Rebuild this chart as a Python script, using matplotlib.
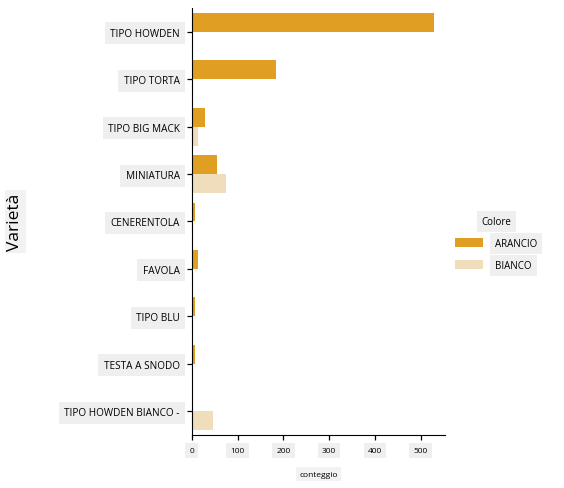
import matplotlib
matplotlib.use("Agg")
import matplotlib.pyplot as plt
import numpy as np

# dati
varieta = ["TIPO HOWDEN", "TIPO TORTA", "TIPO BIG MACK", "MINIATURA", "CENERENTOLA",
           "FAVOLA", "TIPO BLU", "TESTA A SNODO", "TIPO HOWDEN BIANCO -"]
arancio = [528, 185, 28, 55, 6, 14, 6, 6, 0]
bianco = [0, 3, 14, 74, 3, 3, 0, 0, 47]
colori = ["ARANCIO", "BIANCO"]
x_ticks = [0, 100, 200, 300, 400, 500]

col_arancio = "#E09E22"
col_bianco = "#EFDDBB"

plt.rcParams["font.family"] = ["Open Sans", "DejaVu Sans"]

fig = plt.figure(figsize=(5.64, 4.89), dpi=100)
ax = fig.add_axes([0.340, 0.108, 0.449, 0.874])

y = np.arange(len(varieta))
h = 0.4
ax.barh(y - h / 2, arancio, height=h, color=col_arancio, label=colori[0])
ax.barh(y + h / 2, bianco, height=h, color=col_bianco, label=colori[1])

ax.set_ylim(len(varieta) - 0.5, -0.5)
ax.set_xlim(0, 553)
ax.set_yticks(y)
ax.set_yticklabels(varieta, fontsize=7.2)
ax.set_xticks(x_ticks)
ax.set_xticklabels([str(v) for v in x_ticks], fontsize=6)
for lab in ax.get_yticklabels():
    lab.set_bbox(dict(boxstyle="square,pad=0.55", fc="#EFEFEF", ec="none"))
for lab in ax.get_xticklabels():
    lab.set_bbox(dict(boxstyle="square,pad=0.5", fc="#EFEFEF", ec="none"))

ax.spines["top"].set_visible(False)
ax.spines["right"].set_visible(False)
ax.tick_params(length=3.5, width=0.9, pad=5)

ax.set_xlabel("conteggio", fontsize=6, labelpad=12,
              bbox=dict(boxstyle="square,pad=0.4", fc="#F2F2F2", ec="none"))
fig.text(0.027, 0.545, "Varietà", rotation=90, fontsize=12.5, ha="center", va="center",
         bbox=dict(boxstyle="square,pad=0.15", fc="#F2F2F2", ec="none"))

leg = fig.legend(loc="center left", bbox_to_anchor=(0.792, 0.50), frameon=False,
                 fontsize=7, title="Colore", title_fontsize=7,
                 handlelength=2.8, handleheight=1.0, labelspacing=1.1, handletextpad=1.3)
for t in leg.get_texts():
    t.set_bbox(dict(boxstyle="square,pad=0.5", fc="#EFEFEF", ec="none"))
leg.get_title().set_bbox(dict(boxstyle="square,pad=0.5", fc="#EFEFEF", ec="none"))

fig.savefig("out.png", dpi=100)
